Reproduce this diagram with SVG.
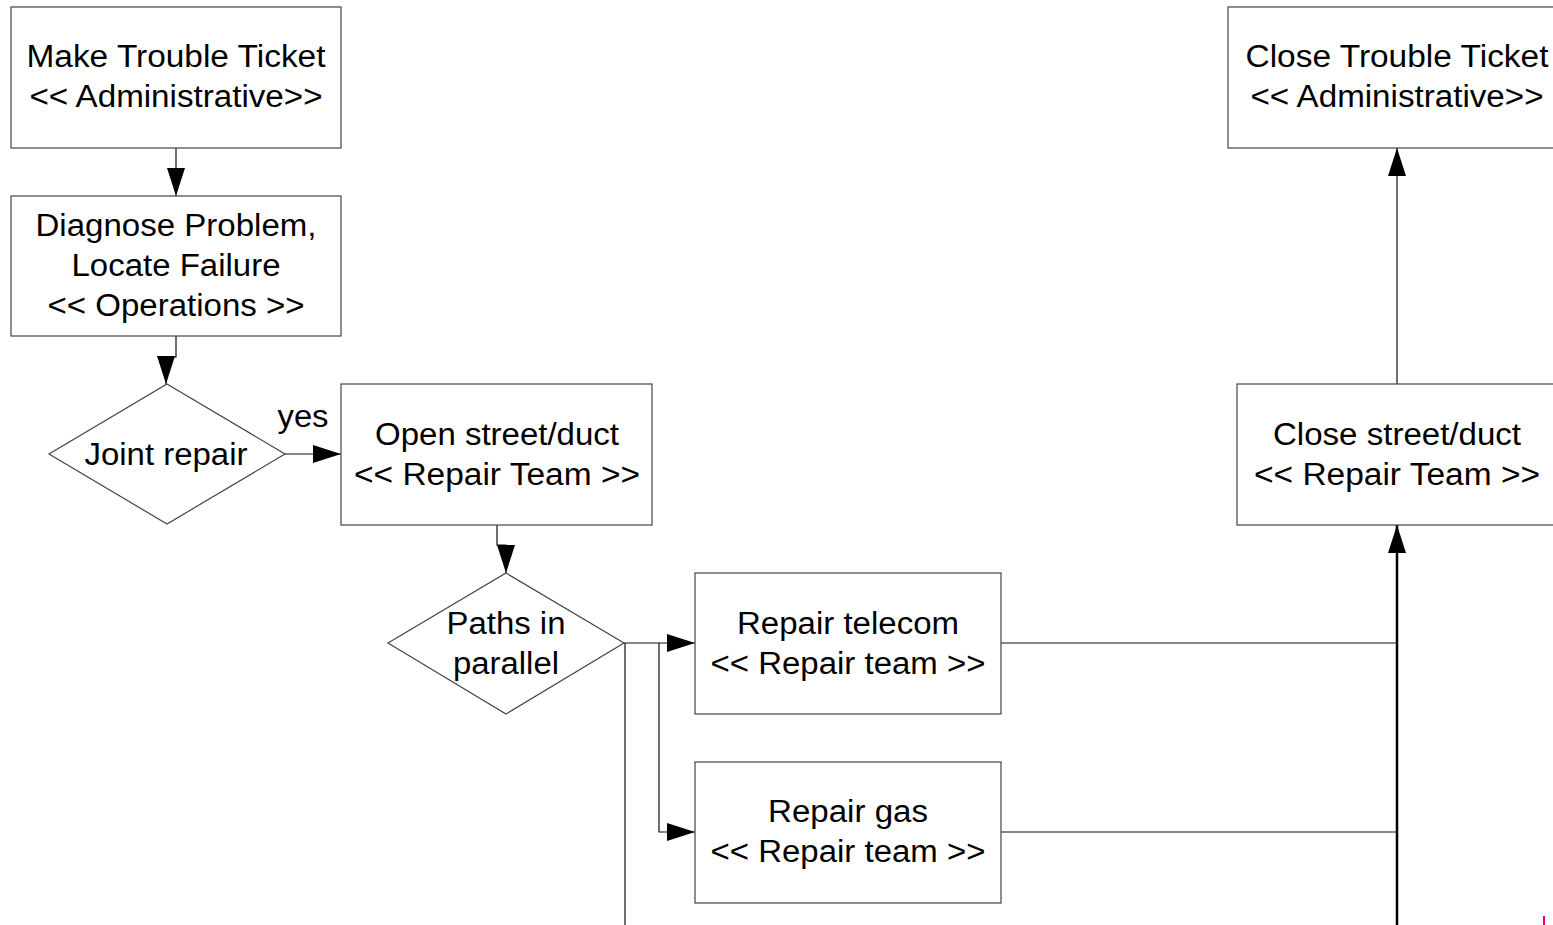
<svg xmlns="http://www.w3.org/2000/svg" width="1553" height="925" viewBox="0 0 1553 925">
<style>
.box{fill:#fff;stroke:#444;stroke-width:1.2}
.lbl{font-family:"Liberation Sans",Arial,sans-serif;font-size:31px;fill:#000;text-anchor:middle}
.con{fill:none;stroke:#111;stroke-width:1.2}
.thick{fill:none;stroke:#000;stroke-width:2.5}
</style>
<defs>
<marker id="ah" markerUnits="userSpaceOnUse" markerWidth="28" markerHeight="18" refX="28" refY="9" orient="auto" viewBox="0 0 28 18">
<path d="M0,0 L28,9 L0,18 z" fill="#000"/>
</marker>
</defs>
<rect width="1553" height="925" fill="#fff"/>
<g id="connectors">
<path class="con" d="M176,148 V196" marker-end="url(#ah)"/>
<path class="con" d="M176,336 V357 H166 V384" marker-end="url(#ah)"/>
<path class="con" d="M285,454 H341" marker-end="url(#ah)"/>
<path class="con" d="M497,525 V545 H506 V573" marker-end="url(#ah)"/>
<path class="con" d="M624,643 H695" marker-end="url(#ah)"/>
<path class="con" d="M659,643 V832 H695" marker-end="url(#ah)"/>
<path class="con" d="M625,643 V925"/>
<path class="con" d="M1001,643 H1397"/>
<path class="con" d="M1001,832 H1397"/>
<path class="thick" d="M1397,925 V525" marker-end="url(#ah)"/>
<path class="con" d="M1397,384 V148" stroke="#555" marker-end="url(#ah)"/>
</g>
<g id="make-ticket">
<rect class="box" x="11" y="7" width="330" height="141"/>
<text class="lbl" x="176" y="67" textLength="299" lengthAdjust="spacingAndGlyphs">Make Trouble Ticket</text>
<text class="lbl" x="176" y="107" textLength="293" lengthAdjust="spacingAndGlyphs">&lt;&lt; Administrative&gt;&gt;</text>
</g>
<g id="diagnose">
<rect class="box" x="11" y="196" width="330" height="140"/>
<text class="lbl" x="176" y="236" textLength="281" lengthAdjust="spacingAndGlyphs">Diagnose Problem,</text>
<text class="lbl" x="176" y="276" textLength="209" lengthAdjust="spacingAndGlyphs">Locate Failure</text>
<text class="lbl" x="176" y="316" textLength="257" lengthAdjust="spacingAndGlyphs">&lt;&lt; Operations &gt;&gt;</text>
</g>
<g id="joint-repair">
<polygon class="box" points="167,384 285,454 167,524 49,454"/>
<text class="lbl" x="166" y="465" textLength="163" lengthAdjust="spacingAndGlyphs">Joint repair</text>
</g>
<g id="yes-label">
<text class="lbl" x="303" y="427" textLength="51" lengthAdjust="spacingAndGlyphs">yes</text>
</g>
<g id="open-street">
<rect class="box" x="341" y="384" width="311" height="141"/>
<text class="lbl" x="497" y="445" textLength="244" lengthAdjust="spacingAndGlyphs">Open street/duct</text>
<text class="lbl" x="497" y="485" textLength="286" lengthAdjust="spacingAndGlyphs">&lt;&lt; Repair Team &gt;&gt;</text>
</g>
<g id="paths-parallel">
<polygon class="box" points="506,573 624,643 506,714 388,643"/>
<text class="lbl" x="506" y="634" textLength="119" lengthAdjust="spacingAndGlyphs">Paths in</text>
<text class="lbl" x="506" y="674" textLength="106" lengthAdjust="spacingAndGlyphs">parallel</text>
</g>
<g id="repair-telecom">
<rect class="box" x="695" y="573" width="306" height="141"/>
<text class="lbl" x="848" y="634" textLength="222" lengthAdjust="spacingAndGlyphs">Repair telecom</text>
<text class="lbl" x="848" y="674" textLength="275" lengthAdjust="spacingAndGlyphs">&lt;&lt; Repair team &gt;&gt;</text>
</g>
<g id="repair-gas">
<rect class="box" x="695" y="762" width="306" height="141"/>
<text class="lbl" x="848" y="822" textLength="160" lengthAdjust="spacingAndGlyphs">Repair gas</text>
<text class="lbl" x="848" y="862" textLength="275" lengthAdjust="spacingAndGlyphs">&lt;&lt; Repair team &gt;&gt;</text>
</g>
<g id="close-street">
<rect class="box" x="1237" y="384" width="330" height="141"/>
<text class="lbl" x="1397" y="445" textLength="248" lengthAdjust="spacingAndGlyphs">Close street/duct</text>
<text class="lbl" x="1397" y="485" textLength="286" lengthAdjust="spacingAndGlyphs">&lt;&lt; Repair Team &gt;&gt;</text>
</g>
<g id="close-ticket">
<rect class="box" x="1228" y="7" width="340" height="141"/>
<text class="lbl" x="1397" y="67" textLength="303" lengthAdjust="spacingAndGlyphs">Close Trouble Ticket</text>
<text class="lbl" x="1397" y="107" textLength="293" lengthAdjust="spacingAndGlyphs">&lt;&lt; Administrative&gt;&gt;</text>
</g>
<rect x="1543" y="916" width="2" height="9" fill="#e6007e"/>
</svg>
